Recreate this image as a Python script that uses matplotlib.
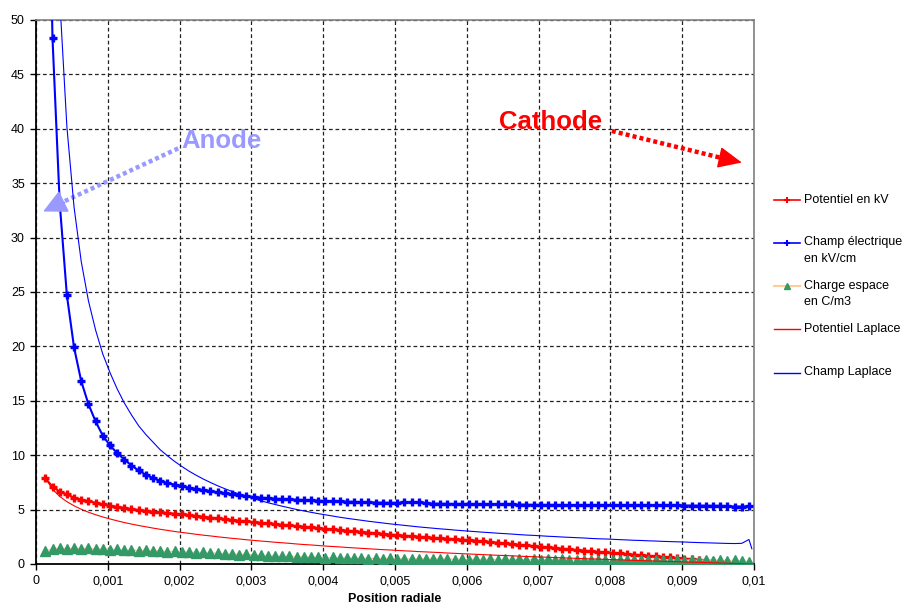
import numpy as np
import matplotlib
matplotlib.use("Agg")
import matplotlib.pyplot as plt
from matplotlib.lines import Line2D

plt.rcParams['font.family'] = ['Liberation Sans', 'DejaVu Sans']

# Positions radiales (m) : une mesure tous les 0,1 mm
x = np.linspace(0.00013, 0.00993, 99)

potentiel = [7.9, 7.1, 6.65, 6.4, 6.1, 5.92, 5.78, 5.63, 5.48, 5.35,
             5.25, 5.15, 5.05, 4.97, 4.88, 4.8, 4.74, 4.68, 4.63, 4.57,
             4.5, 4.42, 4.35, 4.27, 4.2, 4.12, 4.05, 3.98, 3.91, 3.85,
             3.79, 3.73, 3.67, 3.61, 3.55, 3.49, 3.43, 3.37, 3.3, 3.24,
             3.18, 3.12, 3.07, 3.01, 2.95, 2.89, 2.83, 2.77, 2.71, 2.66,
             2.61, 2.56, 2.51, 2.46, 2.41, 2.37, 2.33, 2.29, 2.24, 2.2,
             2.14, 2.08, 2.02, 1.96, 1.9, 1.84, 1.77, 1.71, 1.65, 1.59,
             1.53, 1.47, 1.41, 1.35, 1.29, 1.23, 1.18, 1.12, 1.07, 1.02,
             0.97, 0.91, 0.86, 0.81, 0.76, 0.7, 0.65, 0.6, 0.55, 0.5,
             0.44, 0.38, 0.32, 0.26, 0.2, 0.12, 0.05, 0.0, 0.0]

champ = [80, 48.3, 33.2, 24.7, 19.9, 16.8, 14.7, 13.1, 11.8, 10.9,
         10.2, 9.6, 9.05, 8.6, 8.2, 7.9, 7.65, 7.45, 7.3, 7.15,
         7.02, 6.9, 6.8, 6.7, 6.6, 6.5, 6.42, 6.33, 6.25, 6.15,
         6.1, 6.05, 6.0, 5.97, 5.94, 5.91, 5.88, 5.85, 5.82, 5.79,
         5.77, 5.75, 5.73, 5.71, 5.69, 5.67, 5.65, 5.63, 5.62, 5.62,
         5.66, 5.67, 5.66, 5.6, 5.55, 5.54, 5.53, 5.52, 5.52, 5.51,
         5.5, 5.49, 5.49, 5.48, 5.47, 5.47, 5.46, 5.45, 5.44, 5.43,
         5.43, 5.43, 5.42, 5.42, 5.42, 5.42, 5.42, 5.42, 5.42, 5.42,
         5.41, 5.41, 5.4, 5.4, 5.4, 5.39, 5.39, 5.38, 5.38, 5.37,
         5.37, 5.36, 5.36, 5.35, 5.35, 5.32, 5.28, 5.28, 5.3]

charge = [1.2, 1.38, 1.46, 1.40, 1.47, 1.39, 1.45, 1.37, 1.42, 1.33,
          1.34, 1.27, 1.31, 1.23, 1.27, 1.19, 1.23, 1.14, 1.17, 1.09,
          1.12, 1.03, 1.07, 0.98, 1.01, 0.92, 0.95, 0.86, 0.89, 0.79,
          0.82, 0.73, 0.77, 0.69, 0.73, 0.64, 0.68, 0.6, 0.64, 0.56,
          0.6, 0.53, 0.58, 0.51, 0.56, 0.49, 0.54, 0.47, 0.52, 0.45,
          0.5, 0.44, 0.5, 0.43, 0.49, 0.42, 0.48, 0.41, 0.47, 0.41,
          0.46, 0.4, 0.45, 0.39, 0.45, 0.38, 0.44, 0.37, 0.43, 0.37,
          0.42, 0.36, 0.42, 0.36, 0.41, 0.35, 0.41, 0.35, 0.4, 0.34,
          0.4, 0.34, 0.39, 0.33, 0.39, 0.33, 0.38, 0.32, 0.38, 0.32,
          0.37, 0.31, 0.37, 0.31, 0.36, 0.3, 0.36, 0.28, 0.2]

# Solutions de Laplace (un point de plus au bord de la cathode)
x_lap = np.append(x, 0.00997)

pot_laplace = [7.9, 6.87, 6.21, 5.73, 5.35, 5.03, 4.76, 4.53, 4.32, 4.14,
               3.97, 3.81, 3.67, 3.54, 3.42, 3.3, 3.19, 3.09, 2.99, 2.9,
               2.82, 2.73, 2.65, 2.58, 2.5, 2.43, 2.36, 2.3, 2.23, 2.17,
               2.11, 2.06, 2.0, 1.95, 1.9, 1.84, 1.79, 1.75, 1.7, 1.65,
               1.61, 1.57, 1.52, 1.48, 1.44, 1.4, 1.36, 1.32, 1.29, 1.25,
               1.21, 1.18, 1.14, 1.11, 1.08, 1.05, 1.01, 0.98, 0.95, 0.92,
               0.89, 0.86, 0.83, 0.8, 0.78, 0.75, 0.72, 0.69, 0.67, 0.64,
               0.62, 0.59, 0.57, 0.54, 0.52, 0.49, 0.47, 0.45, 0.42, 0.4,
               0.38, 0.35, 0.33, 0.31, 0.29, 0.27, 0.25, 0.23, 0.21, 0.19,
               0.17, 0.15, 0.13, 0.11, 0.09, 0.07, 0.05, 0.03, 0.01, 0.0]

champ_laplace = [120, 75, 52, 40.2, 32.8, 27.8, 24.2, 21.5, 19.3, 17.6,
                 16.1, 14.8, 13.7, 12.7, 11.9, 11.2, 10.5, 9.95, 9.43, 8.97,
                 8.54, 8.16, 7.81, 7.49, 7.19, 6.92, 6.67, 6.43, 6.21, 6.01,
                 5.81, 5.63, 5.47, 5.31, 5.16, 5.01, 4.88, 4.75, 4.63, 4.52,
                 4.41, 4.3, 4.2, 4.11, 4.02, 3.93, 3.85, 3.77, 3.69, 3.62,
                 3.55, 3.48, 3.41, 3.35, 3.29, 3.23, 3.18, 3.12, 3.07, 3.02,
                 2.97, 2.92, 2.88, 2.83, 2.79, 2.75, 2.7, 2.66, 2.63, 2.59,
                 2.55, 2.52, 2.48, 2.45, 2.42, 2.39, 2.35, 2.32, 2.3, 2.27,
                 2.24, 2.21, 2.18, 2.16, 2.13, 2.11, 2.08, 2.06, 2.04, 2.02,
                 1.99, 1.97, 1.95, 1.93, 1.91, 1.89, 1.88, 1.9, 2.25, 1.4]

xticks = [0, 0.001, 0.002, 0.003, 0.004, 0.005, 0.006, 0.007, 0.008, 0.009, 0.01]
xtick_labels = ["0", "0,001", "0,002", "0,003", "0,004", "0,005",
                "0,006", "0,007", "0,008", "0,009", "0,01"]
yticks = [0, 5, 10, 15, 20, 25, 30, 35, 40, 45, 50]

legend_labels = ["Potentiel en kV", "Champ électrique\nen kV/cm", "Charge espace\nen C/m3",
                 "Potentiel Laplace", "Champ Laplace"]

RED = "#FF0000"
BLUE = "#0000FF"
GREEN = "#339966"
PEACH = "#FFCC99"
LILAS = "#9999FF"

fig = plt.figure(figsize=(9.05, 6.08), dpi=100)
ax = fig.add_axes([36/905, 44/608, 718/905, 544/608])

ax.plot(x, potentiel, color=RED, lw=1.5, marker='+', ms=6, mew=2.4, zorder=3)
ax.plot(x, champ, color=BLUE, lw=1.5, marker='+', ms=6, mew=2.4, zorder=3)
ax.plot(x, charge, color=PEACH, lw=1, marker='^', ms=6.5, mec=GREEN, mfc=GREEN, zorder=3)
ax.plot(x_lap, pot_laplace, color=RED, lw=0.8, zorder=4)
ax.plot(x_lap, champ_laplace, color=BLUE, lw=0.8, zorder=4)

ax.set_xlim(0, 0.01)
ax.set_ylim(0, 50)
ax.set_xticks(xticks)
ax.set_xticklabels(xtick_labels)
ax.set_yticks(yticks)
ax.tick_params(direction='out', length=4, width=1, labelsize=9, pad=4)
ax.grid(True, color='#222222', linestyle=(0, (3, 2.2)), lw=0.9)
ax.set_axisbelow(True)

for s in ['left', 'bottom']:
    ax.spines[s].set_color('black')
    ax.spines[s].set_linewidth(1.3)
for s in ['top', 'right']:
    ax.spines[s].set_color('#808080')
    ax.spines[s].set_linewidth(1.2)

ax.set_xlabel("Position radiale", fontsize=9, fontweight='bold', labelpad=4)

# annotations Anode / Cathode : fleche pointillee + tete pleine
ax.text(0.00203, 38.9, "Anode", color=LILAS, fontsize=18.5, fontweight='bold', va='center', ha='left')
ax.plot([0.00198, 0.00035], [38.2, 33.2], color=LILAS, lw=3.2, linestyle=(0, (0.9, 0.7)),
        dash_capstyle='butt', clip_on=False)
ax.annotate("", xy=(0.0001, 32.4), xytext=(0.00035, 33.2),
            arrowprops=dict(arrowstyle='-|>,head_length=1.0,head_width=0.5', color=LILAS,
                            lw=1, mutation_scale=15, shrinkA=0, shrinkB=0))

ax.text(0.00645, 40.6, "Cathode", color=RED, fontsize=18.5, fontweight='bold', va='center', ha='left')
ax.plot([0.00802, 0.00956], [39.8, 37.3], color=RED, lw=3.2, linestyle=(0, (0.9, 0.7)),
        dash_capstyle='butt', clip_on=False)
ax.annotate("", xy=(0.00983, 36.9), xytext=(0.00956, 37.3),
            arrowprops=dict(arrowstyle='-|>,head_length=1.0,head_width=0.45', color=RED,
                            lw=1, mutation_scale=15, shrinkA=0, shrinkB=0))

# legende a droite, facon Excel
styles = [dict(color=RED, lw=1.2, marker='+', ms=4, mew=1.5),
          dict(color=BLUE, lw=1.2, marker='+', ms=4, mew=1.5),
          dict(color=PEACH, lw=1.5, marker='^', ms=5, mec=GREEN, mfc=GREEN),
          dict(color=RED, lw=1),
          dict(color=BLUE, lw=1)]
leg_y = [200, 242.5, 286, 329, 372.5]
for lab, st, yy in zip(legend_labels, styles, leg_y):
    yf = 1 - yy / 608
    h = Line2D([774/905, 787/905, 800/905], [yf, yf, yf], transform=fig.transFigure,
               markevery=[1], **st)
    fig.add_artist(h)
    for i, line in enumerate(lab.split("\n")):
        fig.text(804/905, yf - i * 16/608, line, fontsize=9, va='center', ha='left')

fig.savefig("out.png", dpi=100)
